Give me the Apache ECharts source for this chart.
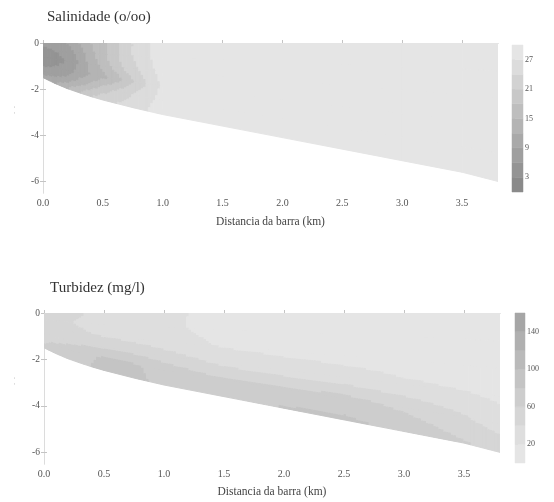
<!DOCTYPE html>
<html><head><meta charset="utf-8">
<script src="https://cdn.jsdelivr.net/npm/echarts@6/dist/echarts.min.js"></script>
<style>html,body{margin:0;padding:0;background:#fff}#c{width:554px;height:502px}</style>
</head><body><div id="c"></div>
<script>
// ---- data ----
const SIGMA = [0, 0.2, 0.4, 0.6, 0.8, 1.0]; // fraction of local depth
const BOTTOM_X = [0, 0.1, 0.2, 0.3, 0.4, 0.5, 0.75, 1.0, 1.5, 2.0, 2.5, 3.0, 3.5, 3.8];
const BOTTOM_Z = [-1.5, -1.75, -1.97, -2.15, -2.32, -2.47, -2.8, -3.1, -3.6, -4.1, -4.6, -5.1, -5.6, -6.0];

const SAL_X = [0, 0.1, 0.2, 0.3, 0.4, 0.5, 0.6, 0.7, 0.8, 0.9, 1.0, 1.5, 2.0, 2.5, 3.0, 3.5, 3.8];
const SAL_PROFILES = [
  [7, 5, 4, 5, 7, 10],
  [8, 6, 5, 6, 8, 12],
  [9, 7, 6, 7, 10, 15],
  [12, 10, 9, 10, 13, 18],
  [15, 14, 13, 12, 16, 21],
  [17, 17, 16, 14, 19, 23],
  [20, 20, 19, 16, 21, 24],
  [23, 23, 22, 19, 23, 25],
  [25, 25, 24, 22, 25, 26],
  [27, 27, 26.5, 25, 26.5, 27.5],
  [28, 28, 28, 27.5, 28, 28],
  [28, 28, 28, 28, 28, 28],
  [28, 28, 28, 28, 28, 28],
  [28, 28, 28, 28, 28, 28],
  [28, 28, 28, 28, 28, 28],
  [28, 28, 28, 28, 28, 28],
  [28, 28, 28, 28, 28, 28]
];
const SAL_BANDS = [0, 3, 6, 9, 12, 15, 18, 21, 24, 27, 30];
const SAL_COLORS = ['#8a8a8a', '#949494', '#9f9f9f', '#a9a9a9', '#b4b4b4', '#bebebe', '#c8c8c8', '#d2d2d2', '#dcdcdc', '#e5e5e5'];
const SAL_TICKS = [3, 9, 15, 21, 27];

const TUR_X = [0, 0.25, 0.5, 0.75, 1.0, 1.25, 1.5, 2.0, 2.5, 3.0, 3.5, 3.8];
const TUR_PROFILES = [
  [46, 46, 48, 52, 58, 62],
  [44, 40, 44, 55, 68, 72],
  [34, 30, 38, 58, 84, 86],
  [30, 28, 34, 55, 82, 84],
  [28, 26, 30, 48, 74, 76],
  [18, 18, 24, 42, 66, 70],
  [14, 14, 18, 34, 62, 68],
  [14, 12, 16, 28, 64, 82],
  [14, 12, 15, 26, 66, 84],
  [14, 12, 14, 22, 56, 76],
  [14, 12, 13, 20, 42, 62],
  [14, 12, 12, 16, 30, 56]
];
const TUR_BANDS = [0, 20, 40, 60, 80, 100, 120, 140, 160];
const TUR_COLORS = ['#e5e5e5', '#dedede', '#d6d6d6', '#cdcdcd', '#c4c4c4', '#bababa', '#b0b0b0', '#a6a6a6'];
const TUR_TICKS = [20, 60, 100, 140];

const X_TICKS = [0, 0.5, 1.0, 1.5, 2.0, 2.5, 3.0, 3.5];
const Y_TICKS = [0, -2, -4, -6];

// ---- helpers ----
function bottomAt(x) {
  for (let k = 0; k < BOTTOM_X.length - 1; k++) {
    if (x <= BOTTOM_X[k + 1]) {
      const t = (x - BOTTOM_X[k]) / (BOTTOM_X[k + 1] - BOTTOM_X[k]);
      return BOTTOM_Z[k] + t * (BOTTOM_Z[k + 1] - BOTTOM_Z[k]);
    }
  }
  return BOTTOM_Z[BOTTOM_Z.length - 1];
}
function bandIndex(v, bands) {
  let k = 0;
  while (k < bands.length - 2 && v >= bands[k + 1]) k++;
  return k;
}
function fieldRender(xs, prof, bands, colors) {
  return function (params, api) {
    const i = api.value(2), j = api.value(3);
    const x0 = xs[i], x1 = xs[i + 1];
    const s0 = SIGMA[j], s1 = SIGMA[j + 1];
    const v00 = prof[i][j], v10 = prof[i + 1][j], v01 = prof[i][j + 1], v11 = prof[i + 1][j + 1];
    const pA = api.coord([x0, 0]), pB = api.coord([x1, 0]);
    const h0 = api.coord([x0, bottomAt(x0) * s1])[1] - api.coord([x0, bottomAt(x0) * s0])[1];
    const h1 = api.coord([x1, bottomAt(x1) * s1])[1] - api.coord([x1, bottomAt(x1) * s0])[1];
    const vmin = Math.min(v00, v10, v01, v11), vmax = Math.max(v00, v10, v01, v11);
    const same = bandIndex(vmin, bands) === bandIndex(vmax, bands);
    const nx = same ? 1 : Math.max(1, Math.ceil((pB[0] - pA[0]) / 2.5));
    const ny = same ? 1 : Math.max(1, Math.ceil(Math.max(Math.abs(h0), Math.abs(h1)) / 2));
    const children = [];
    for (let a = 0; a < nx; a++) {
      const xa = x0 + (x1 - x0) * a / nx, xb = x0 + (x1 - x0) * (a + 1) / nx;
      const da = bottomAt(xa), db = bottomAt(xb);
      const u = (a + 0.5) / nx;
      let runStart = 0, runColor = null;
      const flush = (bEnd) => {
        const sa = s0 + (s1 - s0) * runStart / ny, sb = s0 + (s1 - s0) * bEnd / ny;
        const pts = [
          api.coord([xa, sa * da]), api.coord([xb, sa * db]),
          api.coord([xb, sb * db]), api.coord([xa, sb * da])
        ];
        children.push({ type: 'polygon', shape: { points: pts },
          style: { fill: runColor, stroke: runColor, lineWidth: 1 } });
      };
      for (let b = 0; b < ny; b++) {
        const w = (b + 0.5) / ny;
        const v = (1 - u) * (1 - w) * v00 + u * (1 - w) * v10 + (1 - u) * w * v01 + u * w * v11;
        const c = colors[bandIndex(v, bands)];
        if (runColor === null) { runColor = c; runStart = b; }
        else if (c !== runColor) { flush(b); runColor = c; runStart = b; }
      }
      flush(ny);
    }
    return { type: 'group', children: children };
  };
}
function fieldData(xs) {
  const d = [];
  for (let i = 0; i < xs.length - 1; i++)
    for (let j = 0; j < SIGMA.length - 1; j++)
      d.push([(xs[i] + xs[i + 1]) / 2, -1, i, j]);
  return d;
}
function barRender(bands, colors) {
  return function (params, api) {
    const k = api.value(2);
    const p1 = api.coord([0, bands[k + 1]]), p2 = api.coord([1, bands[k]]);
    return { type: 'rect', shape: { x: p1[0], y: p1[1], width: p2[0] - p1[0], height: p2[1] - p1[1] },
      style: { fill: colors[k], stroke: colors[k], lineWidth: 0.5 } };
  };
}
function barData(bands) {
  const d = [];
  for (let k = 0; k < bands.length - 1; k++) d.push([0.5, (bands[k] + bands[k + 1]) / 2, k]);
  return d;
}

const FONT = 'Liberation Serif';
const lineCol = '#dcdcdc', tickCol = '#c4c4c4', labCol = '#555';
function mainX(gi, nameGap) {
  return [{
    type: 'value', gridIndex: gi, min: 0, max: 3.8, position: 'bottom',
    name: 'Distancia da barra (km)', nameLocation: 'middle', nameGap: nameGap,
    nameTextStyle: { fontFamily: FONT, fontSize: 11.5, color: '#444' },
    axisLine: { show: true, lineStyle: { color: lineCol } },
    axisTick: { show: true, inside: true, length: 3, customValues: X_TICKS, lineStyle: { color: tickCol } },
    axisLabel: { customValues: X_TICKS, formatter: v => v.toFixed(1), fontFamily: FONT, fontSize: 10, color: labCol, margin: 5 },
    splitLine: { show: false }
  }, {
    type: 'value', gridIndex: gi, min: 0, max: 3.8, position: 'top',
    axisLine: { show: true, lineStyle: { color: lineCol } },
    axisTick: { show: true, inside: true, length: 3, customValues: X_TICKS, lineStyle: { color: tickCol } },
    axisLabel: { show: false }, splitLine: { show: false }
  }];
}
function mainY(gi) {
  return [{
    type: 'value', gridIndex: gi, min: -6.5, max: 0, position: 'left',
    axisLine: { show: true, lineStyle: { color: lineCol } },
    axisTick: { show: true, inside: true, length: 3, customValues: Y_TICKS, lineStyle: { color: tickCol } },
    axisLabel: { customValues: Y_TICKS, formatter: v => String(v), fontFamily: FONT, fontSize: 9.5, color: labCol, margin: 4 },
    splitLine: { show: false }
  }, {
    type: 'value', gridIndex: gi, min: -6.5, max: 0, position: 'right',
    axisLine: { show: true, lineStyle: { color: lineCol } },
    axisTick: { show: true, inside: true, length: 3, customValues: Y_TICKS, lineStyle: { color: tickCol } },
    axisLabel: { show: false }, splitLine: { show: false }
  }];
}
function barX(gi) {
  return { type: 'value', gridIndex: gi, min: 0, max: 1, show: false };
}
function barY(gi, max, ticks) {
  return {
    type: 'value', gridIndex: gi, min: 0, max: max, position: 'right',
    axisLine: { show: false },
    axisTick: { show: true, length: 3, customValues: ticks, lineStyle: { color: '#bbb' } },
    axisLabel: { customValues: ticks, fontFamily: FONT, fontSize: 8, color: labCol, margin: 2 },
    splitLine: { show: false }
  };
}

const chart = echarts.init(document.getElementById('c'), null, { renderer: 'canvas' });
chart.setOption({
  backgroundColor: '#fff',
  animation: false,
  title: [
    { text: 'Salinidade (o/oo)', left: 47, top: 10, padding: 0, textStyle: { fontFamily: FONT, fontSize: 15, fontWeight: 'normal', color: '#333' } },
    { text: 'Turbidez (mg/l)', left: 50, top: 281, padding: 0, textStyle: { fontFamily: FONT, fontSize: 15, fontWeight: 'normal', color: '#333' } }
  ],
  grid: [
    { left: 43, top: 43, width: 455, height: 150 },
    { left: 512, top: 45, width: 11, height: 147 },
    { left: 44, top: 313, width: 456, height: 151 },
    { left: 515, top: 313, width: 10, height: 150 }
  ],
  xAxis: [...mainX(0, 23), barX(1), ...mainX(2, 22), barX(3)],
  yAxis: [...mainY(0), barY(1, 30, SAL_TICKS), ...mainY(2), barY(3, 160, TUR_TICKS)],
  graphic: [
    { type: 'text', x: 18, y: 106, rotation: -Math.PI / 2, style: { text: '-  -', fill: '#bbb', font: '7px ' + FONT } },
    { type: 'text', x: 18, y: 377, rotation: -Math.PI / 2, style: { text: '-  -', fill: '#bbb', font: '7px ' + FONT } }
  ],
  series: [
    { type: 'custom', xAxisIndex: 0, yAxisIndex: 0, silent: true, clip: true,
      renderItem: fieldRender(SAL_X, SAL_PROFILES, SAL_BANDS, SAL_COLORS), data: fieldData(SAL_X) },
    { type: 'custom', xAxisIndex: 2, yAxisIndex: 2, silent: true,
      renderItem: barRender(SAL_BANDS, SAL_COLORS), data: barData(SAL_BANDS) },
    { type: 'custom', xAxisIndex: 3, yAxisIndex: 3, silent: true, clip: true,
      renderItem: fieldRender(TUR_X, TUR_PROFILES, TUR_BANDS, TUR_COLORS), data: fieldData(TUR_X) },
    { type: 'custom', xAxisIndex: 5, yAxisIndex: 5, silent: true,
      renderItem: barRender(TUR_BANDS, TUR_COLORS), data: barData(TUR_BANDS) }
  ]
});
</script></body></html>
